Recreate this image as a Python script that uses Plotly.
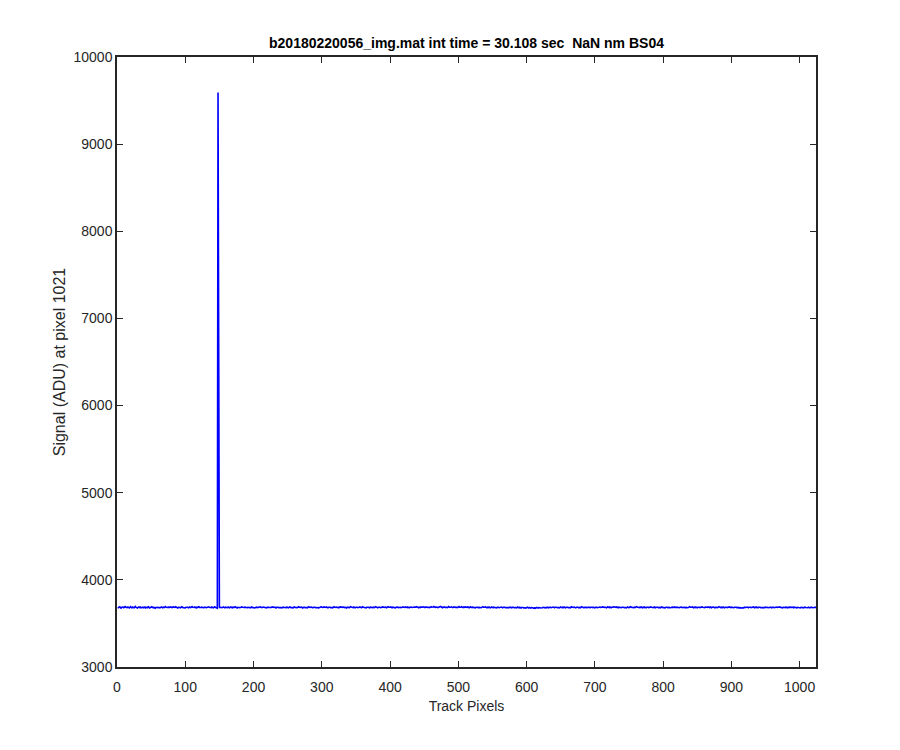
import plotly.graph_objects as go

title_text = "b20180220056_img.mat int time = 30.108 sec  NaN nm BS04"
x_label = "Track Pixels"
y_label = "Signal (ADU) at pixel 1021"
x_ticks = [0, 100, 200, 300, 400, 500, 600, 700, 800, 900, 1000]
y_ticks = [3000, 4000, 5000, 6000, 7000, 8000, 9000, 10000]

signal = [
    3684, 3679, 3688, 3691, 3682, 3676, 3685, 3690, 3687, 3680, 3683, 3693, 3686, 3678, 3681, 3689, 3684, 3677, 3686, 3692, 3683, 3680, 3688, 3685, 3679, 3687, 3694, 3684, 3681, 3676, 3685, 3689,
    3682, 3688, 3679, 3684, 3691, 3686, 3680, 3683, 3689, 3677, 3684, 3687, 3681, 3690, 3685, 3678, 3683, 3688, 3692, 3684, 3679, 3686, 3682, 3675, 3684, 3689, 3686, 3681, 3687, 3683, 3679, 3688,
    3690, 3684, 3680, 3686, 3682, 3688, 3693, 3685, 3679, 3683, 3687, 3681, 3684, 3690, 3686, 3678, 3682, 3689, 3685, 3680, 3684, 3691, 3687, 3682, 3677, 3685, 3688, 3683, 3680, 3686, 3692, 3684,
    3681, 3687, 3683, 3678, 3685, 3690, 3686, 3682, 3679, 3688, 3684, 3681, 3687, 3693, 3685, 3680, 3683, 3689, 3684, 3678, 3686, 3682, 3688, 3691, 3684, 3679, 3683, 3687, 3682, 3686, 3680, 3685,
    3689, 3684, 3680, 3687, 3683, 3690, 3685, 3681, 3686, 3682, 3688, 3684, 3679, 3685, 3691, 3686, 3680, 3676, 3675, 9592, 3684, 3680, 3686, 3683, 3688, 3681, 3685, 3690, 3684, 3679, 3686, 3682,
    3685, 3681, 3688, 3684, 3679, 3686, 3690, 3683, 3680, 3687, 3682, 3685, 3691, 3686, 3681, 3677, 3684, 3688, 3683, 3680, 3686, 3682, 3689, 3685, 3679, 3683, 3687, 3684, 3690, 3685, 3680, 3684,
    3688, 3683, 3679, 3685, 3689, 3684, 3681, 3686, 3682, 3678, 3684, 3690, 3687, 3682, 3685, 3680, 3686, 3691, 3684, 3679, 3683, 3688, 3685, 3681, 3687, 3683, 3679, 3684, 3689, 3686, 3682, 3680,
    3686, 3682, 3689, 3685, 3680, 3684, 3688, 3683, 3678, 3685, 3690, 3686, 3681, 3684, 3688, 3682, 3679, 3685, 3691, 3687, 3683, 3680, 3686, 3682, 3688, 3684, 3679, 3685, 3690, 3684, 3681, 3687,
    3683, 3679, 3686, 3690, 3684, 3681, 3687, 3682, 3685, 3691, 3686, 3680, 3684, 3688, 3683, 3678, 3685, 3689, 3684, 3681, 3687, 3683, 3680, 3686, 3692, 3685, 3681, 3684, 3688, 3682, 3679, 3686,
    3690, 3685, 3680, 3684, 3688, 3683, 3679, 3686, 3682, 3687, 3691, 3685, 3681, 3684, 3689, 3686, 3680, 3683, 3688, 3684, 3679, 3685, 3690, 3686, 3682, 3687, 3683, 3680, 3686, 3691, 3685, 3681,
    3684, 3688, 3683, 3679, 3686, 3682, 3689, 3685, 3680, 3684, 3690, 3686, 3681, 3687, 3683, 3678, 3685, 3689, 3684, 3680, 3686, 3692, 3687, 3682, 3685, 3681, 3688, 3684, 3679, 3686, 3690, 3685,
    3681, 3687, 3683, 3689, 3684, 3680, 3686, 3691, 3685, 3682, 3688, 3684, 3679, 3685, 3690, 3686, 3683, 3680, 3687, 3684, 3689, 3685, 3681, 3686, 3682, 3688, 3693, 3687, 3683, 3680, 3685, 3689,
    3686, 3682, 3679, 3685, 3690, 3686, 3681, 3684, 3688, 3683, 3680, 3687, 3692, 3686, 3682, 3685, 3689, 3684, 3680, 3686, 3683, 3688, 3684, 3679, 3685, 3691, 3687, 3682, 3684, 3689, 3685, 3681,
    3687, 3683, 3689, 3685, 3680, 3684, 3690, 3686, 3682, 3688, 3684, 3679, 3686, 3691, 3687, 3683, 3680, 3685, 3689, 3686, 3682, 3687, 3693, 3688, 3684, 3680, 3686, 3682, 3688, 3685, 3681, 3687,
    3690, 3686, 3682, 3688, 3692, 3687, 3683, 3689, 3685, 3681, 3687, 3691, 3686, 3683, 3689, 3694, 3688, 3684, 3687, 3691, 3686, 3682, 3688, 3684, 3690, 3695, 3689, 3685, 3681, 3687, 3692, 3688,
    3684, 3689, 3686, 3682, 3688, 3693, 3687, 3683, 3686, 3690, 3685, 3681, 3687, 3692, 3688, 3684, 3689, 3685, 3682, 3688, 3693, 3687, 3683, 3686, 3691, 3686, 3682, 3688, 3684, 3690, 3686, 3681,
    3685, 3689, 3684, 3680, 3686, 3691, 3685, 3681, 3687, 3683, 3688, 3684, 3679, 3685, 3690, 3686, 3682, 3688, 3684, 3680, 3686, 3682, 3687, 3692, 3686, 3681, 3685, 3689, 3684, 3680, 3686, 3682,
    3688, 3683, 3679, 3685, 3690, 3684, 3680, 3686, 3682, 3687, 3683, 3678, 3684, 3689, 3685, 3681, 3686, 3682, 3688, 3684, 3679, 3685, 3690, 3686, 3681, 3684, 3688, 3683, 3679, 3685, 3682, 3687,
    3683, 3679, 3685, 3689, 3684, 3680, 3686, 3682, 3678, 3684, 3688, 3683, 3679, 3685, 3681, 3677, 3683, 3687, 3682, 3678, 3684, 3680, 3676, 3682, 3686, 3681, 3677, 3683, 3679, 3675, 3681, 3685,
    3680, 3676, 3682, 3678, 3674, 3680, 3684, 3679, 3675, 3681, 3685, 3680, 3677, 3683, 3679, 3684, 3688, 3683, 3679, 3685, 3681, 3686, 3682, 3678, 3684, 3689, 3685, 3681, 3686, 3682, 3688, 3684,
    3680, 3686, 3690, 3685, 3681, 3687, 3683, 3679, 3685, 3689, 3684, 3680, 3686, 3682, 3688, 3684, 3679, 3685, 3690, 3686, 3682, 3687, 3683, 3680, 3686, 3691, 3685, 3681, 3684, 3688, 3683, 3679,
    3685, 3690, 3686, 3682, 3688, 3684, 3680, 3686, 3691, 3687, 3683, 3679, 3685, 3689, 3684, 3681, 3687, 3683, 3688, 3684, 3680, 3686, 3690, 3685, 3681, 3687, 3682, 3678, 3684, 3689, 3685, 3681,
    3686, 3682, 3688, 3684, 3680, 3685, 3690, 3686, 3681, 3684, 3688, 3683, 3679, 3685, 3691, 3686, 3682, 3688, 3684, 3680, 3686, 3682, 3687, 3691, 3686, 3682, 3685, 3689, 3684, 3680, 3686, 3683,
    3688, 3684, 3680, 3686, 3690, 3685, 3681, 3687, 3683, 3679, 3685, 3689, 3684, 3680, 3686, 3692, 3687, 3683, 3688, 3684, 3680, 3686, 3682, 3688, 3693, 3687, 3682, 3685, 3681, 3687, 3683, 3689,
    3684, 3680, 3686, 3682, 3688, 3684, 3679, 3685, 3690, 3686, 3682, 3687, 3683, 3689, 3685, 3681, 3686, 3682, 3688, 3684, 3680, 3686, 3691, 3686, 3682, 3688, 3684, 3680, 3685, 3689, 3684, 3681,
    3687, 3683, 3679, 3685, 3690, 3686, 3682, 3688, 3684, 3680, 3686, 3682, 3687, 3683, 3679, 3684, 3689, 3685, 3681, 3687, 3683, 3688, 3684, 3680, 3685, 3691, 3687, 3682, 3685, 3681, 3686, 3682,
    3688, 3684, 3680, 3686, 3682, 3687, 3692, 3686, 3682, 3685, 3689, 3684, 3680, 3686, 3682, 3688, 3684, 3679, 3685, 3690, 3686, 3682, 3687, 3683, 3689, 3685, 3681, 3686, 3682, 3688, 3684, 3680,
    3685, 3690, 3686, 3682, 3688, 3684, 3680, 3686, 3691, 3687, 3683, 3679, 3685, 3689, 3684, 3681, 3687, 3693, 3688, 3684, 3680, 3686, 3682, 3688, 3684, 3679, 3685, 3690, 3686, 3682, 3687, 3683,
    3689, 3685, 3681, 3687, 3683, 3688, 3684, 3680, 3686, 3691, 3686, 3682, 3688, 3684, 3679, 3685, 3681, 3677, 3683, 3679, 3675, 3681, 3685, 3680, 3686, 3682, 3688, 3684, 3680, 3686, 3690, 3685,
    3681, 3687, 3683, 3689, 3685, 3680, 3686, 3682, 3688, 3684, 3679, 3685, 3690, 3686, 3681, 3684, 3688, 3683, 3679, 3685, 3681, 3687, 3683, 3688, 3684, 3680, 3686, 3682, 3687, 3683, 3679, 3685,
    3689, 3684, 3680, 3686, 3682, 3688, 3684, 3680, 3685, 3690, 3686, 3682, 3687, 3683, 3679, 3685, 3681, 3686, 3682, 3688, 3684, 3679, 3685, 3681, 3687, 3683, 3679, 3684, 3688, 3683, 3680, 3686,
    3682, 3687, 3683, 3679, 3685, 3681, 3686, 3682, 3678, 3684, 3688, 3683, 3679, 3685, 3681, 3687, 3683, 3679, 3684, 3680, 3686, 3682, 3678, 3684, 3689, 3684, 3680, 3686, 3682, 3685, 3681, 3684,
]
pixels = list(range(1, len(signal) + 1))

axis_color = "#262626"
font_family = "Liberation Sans, Arial, Helvetica, sans-serif"

# the page body adds an 8px offset; margins compensate so the axes land where the reference has them
PAGE_OFFSET = 8
ax_left, ax_right, ax_top, ax_bottom = 117, 816, 57, 667

fig = go.Figure()
fig.add_trace(go.Scatter(
    x=pixels, y=signal, mode="lines",
    line=dict(color="#0000ff", width=1.6),
    showlegend=False, hoverinfo="skip",
))

axis_common = dict(
    showgrid=False, zeroline=False,
    showline=True, linecolor=axis_color, linewidth=1.5,
    mirror="ticks", ticks="inside", ticklen=6, tickwidth=1.2, tickcolor=axis_color,
    tickfont=dict(family=font_family, size=14, color=axis_color),
)

fig.update_layout(
    width=900, height=750,
    paper_bgcolor="white", plot_bgcolor="white",
    margin=dict(l=ax_left - PAGE_OFFSET, r=900 - ax_right + PAGE_OFFSET,
                t=ax_top - PAGE_OFFSET, b=750 - ax_bottom + PAGE_OFFSET, autoexpand=False),
    title=dict(
        text="<b>" + title_text + "</b>",
        x=((ax_left + ax_right) / 2 - PAGE_OFFSET) / 900, xanchor="center",
        y=1 - (43 - PAGE_OFFSET) / 750, yanchor="middle",
        font=dict(family=font_family, size=14, color="#000000"),
    ),
    xaxis=dict(
        range=[0, 1024], tickvals=x_ticks, ticktext=[str(v) for v in x_ticks],
        ticklabelstandoff=6,
        title=dict(text=x_label, font=dict(family=font_family, size=14, color=axis_color), standoff=8),
        **axis_common,
    ),
    yaxis=dict(
        range=[3000, 10000], tickvals=y_ticks, ticktext=[str(v) for v in y_ticks],
        title=dict(text=y_label, font=dict(family=font_family, size=16, color=axis_color), standoff=4),
        **axis_common,
    ),
)

fig.write_html("out.html")
